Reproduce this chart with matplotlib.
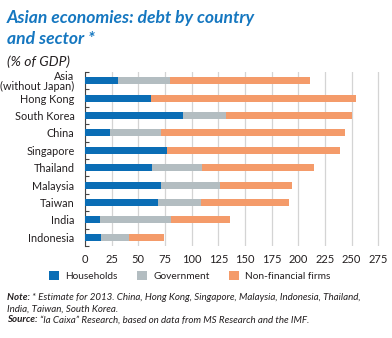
import numpy as np
import matplotlib
matplotlib.use('Agg')
import matplotlib.pyplot as plt
from matplotlib.patches import Patch

# Dane (% PKB)
kraje = ['Asia\n(without Japan)', 'Hong Kong', 'South Korea', 'China', 'Singapore',
         'Thailand', 'Malaysia', 'Taiwan', 'India', 'Indonesia']
gospodarstwa = [31, 62, 92, 23, 77, 63, 71, 68, 14, 15]
rzad = [49, 0, 40, 48, 0, 47, 56, 41, 67, 26]
firmy = [131, 192, 118, 173, 162, 105, 67, 82, 55, 33]
xticks = [0, 25, 50, 75, 100, 125, 150, 175, 200, 225, 250, 275]
serie = ['Households', 'Government', 'Non-financial firms']

kolory = ['#0a6db5', '#b3bdc1', '#f49b6a']
niebieski = '#1577c0'
tekst = '#231f20'

plt.rcParams['font.family'] = ['Lato', 'DejaVu Sans']

fig = plt.figure(figsize=(3.92, 3.38), dpi=100)
ax = fig.add_axes([0.2168, 0.2722, 0.7538, 0.5148])

y = np.arange(len(kraje))
h = np.array(gospodarstwa)
g = np.array(rzad)
f = np.array(firmy)
ax.barh(y, h, height=0.4, color=kolory[0], zorder=3)
ax.barh(y, g, left=h, height=0.4, color=kolory[1], zorder=3)
ax.barh(y, f, left=h + g, height=0.4, color=kolory[2], zorder=3)

ax.set_xlim(0, 277)
ax.set_ylim(len(kraje) - 0.5, -0.5)
ax.set_xticks(xticks)
ax.set_yticks(y)
ax.set_yticklabels(kraje, fontsize=7.8, color=tekst, linespacing=0.95)
ax.set_yticks(np.arange(-0.5, len(kraje)), minor=True)
ax.tick_params(axis='y', which='major', length=0, pad=7.5)
ax.tick_params(axis='y', which='minor', length=3, direction='in', width=0.8, color='#444444')
ax.tick_params(axis='x', length=0, labelsize=8, labelcolor=tekst, pad=6)
ax.grid(axis='x', color='#d4d4d4', linewidth=0.9, zorder=0)
for s in ['top', 'right', 'bottom']:
    ax.spines[s].set_visible(False)
ax.spines['left'].set_color('#444444')
ax.spines['left'].set_linewidth(0.8)

# Tytuł
fig.text(7 / 392, 1 - 18 / 338, 'Asian economies: debt by country', fontsize=12.6,
         fontweight='bold', fontstyle='italic', color=niebieski, va='center')
fig.text(7 / 392, 1 - 39 / 338, 'and sector *', fontsize=12.6,
         fontweight='bold', fontstyle='italic', color=niebieski, va='center')
fig.text(7 / 392, 1 - 62 / 338, '(% of GDP)', fontsize=10, fontstyle='italic',
         color=tekst, va='center')

# Legenda
uchwyty = [Patch(facecolor=c, edgecolor='none') for c in kolory]
fig.legend(uchwyty, serie, loc='center', bbox_to_anchor=(0.484, 1 - 276 / 338),
           ncol=3, frameon=False, fontsize=7.3, handlelength=1.0, handleheight=1.0,
           handletextpad=0.6, columnspacing=1.9, labelcolor=tekst)

# Przypisy (pogrubienie + kursywa)
renderer = fig.canvas.get_renderer()


def napis(x, y, czesci):
    for tresc, waga in czesci:
        t = fig.text(x, y, tresc, fontsize=7, fontstyle='italic', fontweight=waga,
                     color=tekst, va='center')
        bb = t.get_window_extent(renderer=renderer)
        x += bb.width / fig.bbox.width


napis(7 / 392, 1 - 298 / 338, [('Note: ', 'bold'),
      ('* Estimate for 2013. China, Hong Kong, Singapore, Malaysia, Indonesia, Thailand,', 'normal')])
napis(7 / 392, 1 - 309 / 338, [('India, Taiwan, South Korea.', 'normal')])
napis(7 / 392, 1 - 320 / 338, [('Source: ', 'bold'),
      ('\u201cla Caixa\u201d Research, based on data from MS Research and the IMF.', 'normal')])

fig.savefig('out.png', dpi=100)
